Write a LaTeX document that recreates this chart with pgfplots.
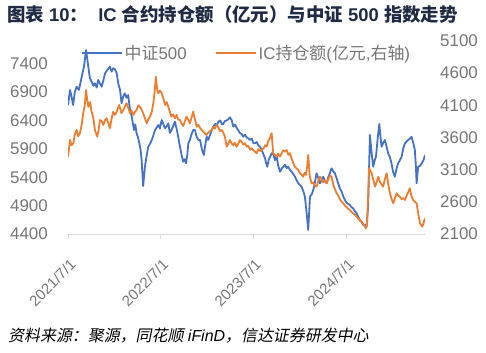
\documentclass[border=0pt]{standalone}
\usepackage{pgfplots}
\pgfplotsset{compat=1.18}
\usepackage{pgfplotstable}
\usepackage{fontspec}
\setmainfont{Liberation Sans}
\newfontfamily\cjk{Noto Sans CJK SC}
\newfontfamily\cjkit[FakeSlant=0.2]{Noto Sans CJK SC}
\definecolor{blueline}{HTML}{4472C4}
\definecolor{orangeline}{HTML}{ED7D31}
\definecolor{tickgray}{HTML}{767676}
\definecolor{axisgray}{HTML}{D9D9D9}
\definecolor{titlecolor}{HTML}{1F2A44}

\pgfplotstableread{
d v
0 6672
8 6937
14 6820
20 6672
27 6900
34 6995
43 6937
54 7171
63 7347
71 7641
76 7480
80 7347
86 7150
93 7083
100 7010
106 7055
113 6980
119 7113
126 7050
133 6995
140 7120
146 7231
155 7290
165 7347
172 7260
178 7319
185 7300
192 7231
198 7050
205 6937
211 6702
217 6820
224 6878
230 6800
237 6849
244 6600
251 6466
260 6232
265 6330
270 6174
276 6100
281 5997
286 5880
290 5703
296 5245
303 5585
309 5760
316 5938
323 5990
330 6056
337 6150
343 6232
350 6280
356 6320
362 6260
369 6408
376 6330
382 6262
389 6300
395 6350
401 6180
408 6232
414 6300
421 6378
428 6250
434 6114
441 5938
448 5780
454 5673
460 5720
465 5645
470 5800
474 5997
480 6056
486 6150
493 6232
500 6232
506 6120
513 6056
520 6056
527 5900
535 5791
540 5950
546 6114
552 6056
560 6150
566 6230
572 6290
580 6340
586 6300
592 6378
600 6400
606 6330
611 6338
618 6390
625 6400
631 6420
638 6456
645 6400
651 6290
658 6330
664 6270
670 6232
677 6180
684 6160
690 6114
697 6150
704 6100
710 6085
717 6056
724 6080
730 6000
736 5997
743 6020
750 5960
756 5938
763 5880
770 5800
776 5733
780 5650
785 5585
790 5700
796 5760
802 5821
809 5800
815 5700
822 5761
828 5600
835 5497
841 5550
848 5585
855 5620
861 5560
867 5585
874 5530
881 5497
888 5450
894 5409
900 5350
907 5293
914 5260
920 5233
927 5150
933 5057
940 4764
946 4470
950 4800
953 5057
960 5100
966 5175
972 5300
979 5469
986 5380
992 5293
999 5350
1005 5409
1012 5330
1019 5293
1025 5400
1032 5480
1038 5557
1045 5500
1051 5469
1058 5380
1064 5293
1071 5200
1078 5145
1084 5060
1091 4998
1097 4950
1104 4930
1110 4910
1117 4870
1123 4852
1130 4800
1137 4764
1143 4700
1150 4646
1157 4600
1163 4558
1170 4560
1176 4528
1182 4880
1189 6144
1196 5821
1202 5585
1208 5700
1213 5761
1219 6056
1226 6338
1231 6100
1235 5938
1241 6000
1248 6056
1254 5950
1261 5821
1268 5750
1274 5645
1280 5500
1287 5409
1294 5550
1300 5645
1307 5700
1314 5761
1320 5900
1327 5997
1334 6030
1340 6056
1347 6080
1353 6114
1360 6000
1366 5879
1370 5600
1373 5293
1379 5585
1386 5600
1393 5645
1400 5700
1406 5791
}\csi

\pgfplotstableread{
d v
0 3302
8 3562
14 3480
21 3510
27 3650
34 3717
40 3620
47 3666
54 3800
60 3976
66 4100
71 4339
76 4180
80 4079
87 4150
93 4001
100 3900
106 3717
115 3613
120 3700
126 3872
133 3850
139 3795
146 3870
152 3899
159 3820
165 3743
172 3900
178 4001
185 3950
192 4001
197 4060
202 4105
210 3980
218 4028
224 4080
231 4132
238 4050
244 3976
250 4020
257 3950
264 4000
270 4028
277 4100
283 4079
290 4030
296 3976
303 3900
310 3821
316 3880
323 3924
330 4000
336 4132
341 4300
346 4545
351 4350
356 4287
362 4330
369 4287
376 4200
382 4105
389 4150
395 4079
401 4000
408 3924
414 3960
421 3899
428 3950
434 3880
441 3872
447 3820
454 3779
460 3850
467 3924
473 3880
480 3821
486 3900
493 4001
500 3880
507 3768
513 3800
520 3750
526 3717
533 3690
540 3660
546 3639
553 3680
560 3700
566 3717
572 3760
579 3740
585 3795
592 3760
598 3700
605 3717
611 3680
618 3613
625 3457
631 3500
638 3560
644 3510
651 3480
657 3520
664 3457
670 3500
677 3560
684 3535
690 3490
697 3510
704 3457
710 3470
717 3410
723 3433
730 3400
736 3380
743 3355
750 3420
756 3390
763 3406
770 3430
776 3480
782 3457
790 3560
796 3600
802 3666
808 3355
815 3330
822 3302
828 3350
835 3302
842 3360
848 3400
855 3380
861 3406
868 3330
874 3355
880 3280
887 3200
893 3150
900 3120
907 3096
913 3050
920 3020
926 2991
932 3050
937 3018
942 3150
946 3328
952 3000
959 2889
966 2900
972 2850
979 2836
986 2930
992 2991
999 2950
1005 2900
1012 2930
1019 2889
1025 2950
1032 3010
1038 2991
1045 2860
1051 2800
1058 2733
1064 2700
1071 2640
1078 2600
1084 2578
1091 2540
1097 2520
1104 2490
1110 2474
1117 2440
1123 2420
1130 2400
1137 2370
1143 2340
1150 2310
1156 2292
1162 2260
1168 2230
1173 2189
1178 2287
1182 2700
1186 3126
1191 3080
1196 3044
1202 2950
1209 2836
1215 2900
1222 2991
1228 2913
1235 2870
1241 2836
1248 2950
1255 3044
1261 2880
1268 2733
1274 2650
1281 2578
1287 2650
1294 2733
1300 2700
1307 2680
1314 2640
1320 2660
1327 2629
1334 2700
1340 2750
1346 2811
1352 2700
1359 2629
1366 2600
1373 2578
1378 2450
1386 2267
1391 2240
1396 2215
1401 2280
1406 2345
}\ic

\begin{document}
\begin{tikzpicture}
\path[use as bounding box] (0,0) rectangle (486bp,353bp);
\pgfplotsset{
  common/.style={
    at={(68bp,119bp)}, anchor=south west,
    scale only axis, width=357bp, height=193bp,
    xmin=0, xmax=1406,
    tick label style={font=\fontsize{17}{17}\selectfont, text=tickgray},
    /pgf/number format/assume math mode=true,
    /pgf/number format/1000 sep={},
    ytick style={draw=none},
  }
}
\begin{axis}[common,
  ymin=4400, ymax=7800, ytick={4400,4900,...,7400},
  xtick={0,365,730,1096},
  xticklabels={2021/7/1,2022/7/1,2023/7/1,2024/7/1},
  axis x line*=bottom, axis y line*=left,
  y axis line style={draw=none},
  x axis line style={draw=axisgray, line width=0.9bp},
  xtick style={draw=axisgray, line width=0.9bp},
  tick align=outside, major tick length=5bp,
  yticklabel style={anchor=east, inner sep=0pt, xshift=-15bp},
  xticklabel style={font=\fontsize{15}{15}\selectfont, inner sep=0pt, xshift=5bp, yshift=-23bp, rotate=45, anchor=east},
]
\addplot[blueline, line width=1.8bp, line join=round] table {\csi};
\end{axis}
\begin{axis}[common,
  ymin=2100, ymax=5100, ytick={2100,2600,...,5100},
  axis y line*=right, axis x line=none,
  y axis line style={draw=none},
  yticklabel style={anchor=west, inner sep=0pt, xshift=15bp},
  legend style={at={(0.5,0.938)}, anchor=center, draw=none, fill=none,
    font=\fontsize{17}{17}\selectfont, text=tickgray,
    /tikz/every even column/.append style={column sep=26bp}},
  legend columns=2,
  legend image code/.code={\draw[#1] (0bp,0bp) -- (40bp,0bp);},
]
\addlegendimage{blueline, line width=1.8bp}
\addlegendentry{{\cjk 中证}500}
\addplot[orangeline, line width=1.8bp, line join=round] table {\ic};
\addlegendentry{IC{\cjk 持仓额}({\cjk 亿元},{\cjk 右轴})}
\end{axis}
\node[anchor=west, inner sep=0pt, text=titlecolor, font=\fontsize{18.5}{18.5}\selectfont\bfseries] at (7bp,338bp)
  {{\cjk\bfseries 图表} 10{\cjk\bfseries ：}\ \ IC {\cjk\bfseries 合约持仓额（亿元）与中证} 500 {\cjk\bfseries 指数走势}};
\node[anchor=west, inner sep=0pt, text=black, font=\fontsize{16}{16}\selectfont] at (8bp,17bp)
  {{\cjkit 资料来源：聚源，同花顺} \textit{iFinD}{\cjkit ，信达证券研发中心}};
\end{tikzpicture}
\end{document}
